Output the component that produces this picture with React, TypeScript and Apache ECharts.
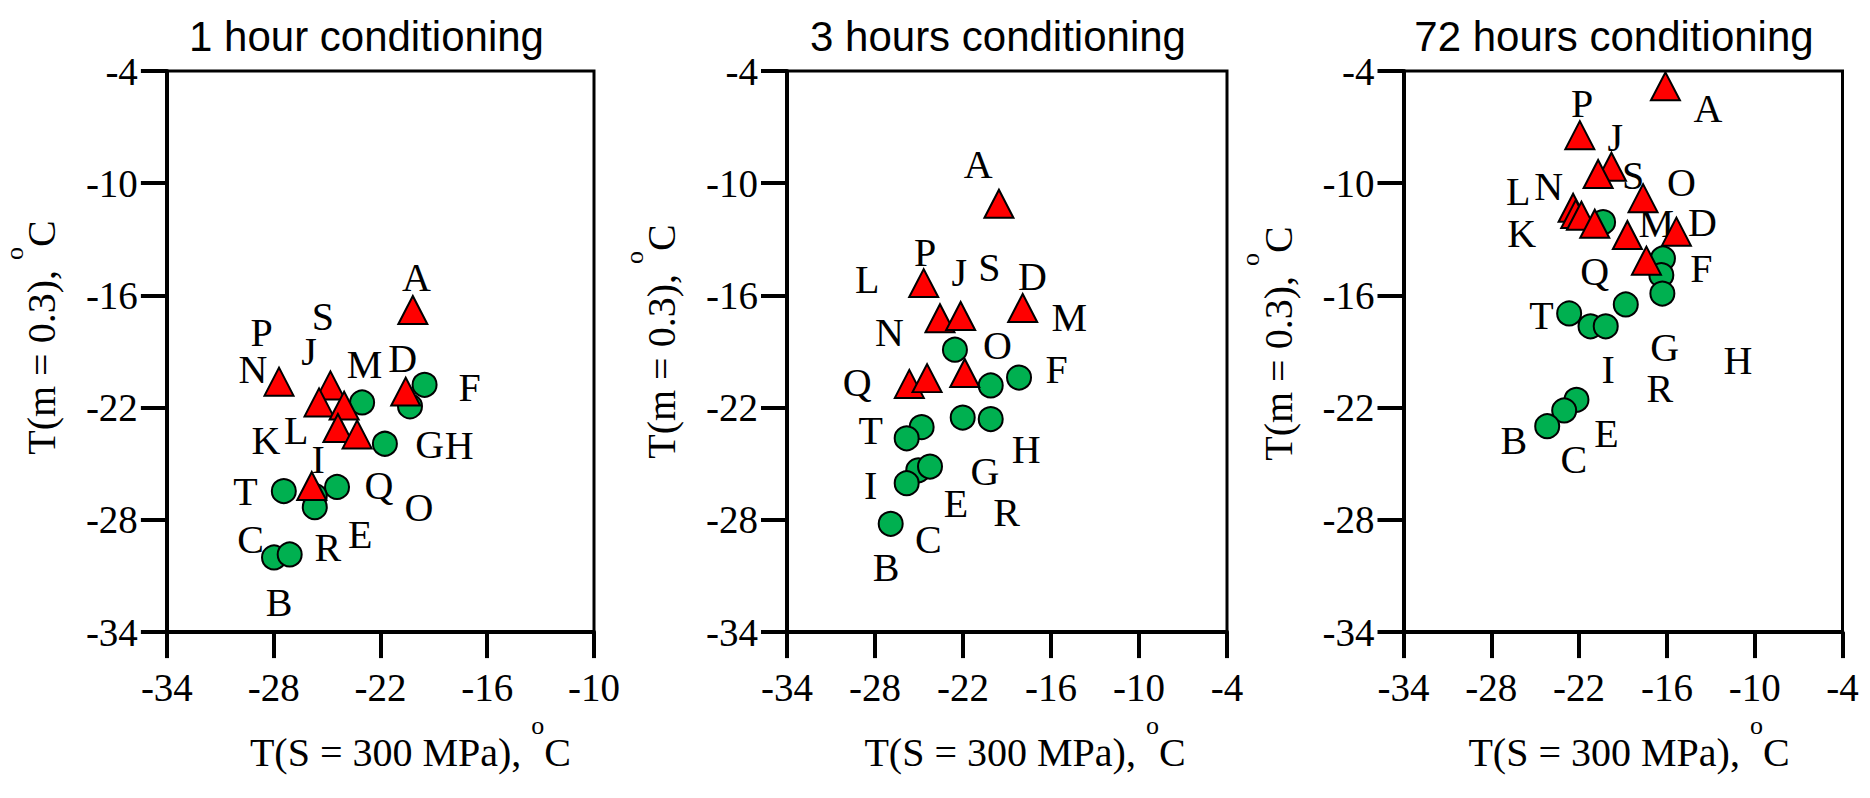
import { useEffect, useRef } from "react";
import * as echarts from "echarts";

// ---------- data ----------
const panelTitles = ["1 hour conditioning", "3 hours conditioning", "72 hours conditioning"];
const axisMin = -34;
const yAxisMax = -4;
const xAxisMax = [-10, -4, -4];
const tickStep = 6;

// Panel 1: 1 hour conditioning
const circles1: number[][] = [
  [-19.52, -20.78], [-20.34, -21.93], [-23.03, -21.72], [-21.75, -23.93], [-27.43, -26.46],
  [-24.44, -26.24], [-25.69, -26.72], [-25.69, -27.32], [-27.98, -30.01], [-27.1, -29.85],
];
const triangles1: number[][] = [
  [-24.81, -20.81], [-20.18, -16.78], [-27.7, -20.61], [-25.45, -21.72], [-24.04, -21.89],
  [-24.39, -23.09], [-23.31, -23.43], [-20.58, -21.14], [-25.86, -26.19],
];
const letters1 = ["A", "B", "C", "D", "E", "F", "G", "H", "I", "J", "K", "L", "M", "N", "O", "P", "Q", "R", "S", "T"];
const letterPos1: number[][] = [
  [-19.98, -15.04], [-27.7, -32.42], [-29.29, -29.03], [-20.75, -19.36], [-23.13, -28.78],
  [-16.99, -20.9], [-19.23, -23.98], [-17.58, -24.02], [-25.5, -24.75], [-26.01, -19.02],
  [-28.44, -23.73], [-26.73, -23.21], [-22.89, -19.67], [-29.17, -19.96], [-19.83, -27.32],
  [-28.67, -17.99], [-22.08, -26.18], [-24.95, -29.46], [-25.23, -17.1], [-29.59, -26.46],
];

// Panel 2: 3 hours conditioning
const circles2: number[][] = [
  [-22.55, -18.9], [-20.11, -20.81], [-18.18, -20.39], [-22.02, -22.53], [-20.11, -22.61],
  [-24.82, -23.04], [-25.84, -23.64], [-25.05, -25.35], [-24.25, -25.15], [-25.84, -26.04],
  [-26.93, -28.21],
];
const triangles2: number[][] = [
  [-19.55, -11.1], [-24.68, -15.34], [-17.93, -16.67], [-23.57, -17.22], [-22.16, -17.1],
  [-25.66, -20.73], [-24.45, -20.42], [-21.88, -20.15],
];
const letters2 = ["A", "B", "C", "D", "E", "F", "G", "H", "I", "J", "L", "M", "N", "O", "P", "Q", "R", "S", "T"];
const letterPos2: number[][] = [
  [-20.96, -9.0], [-27.25, -30.52], [-24.37, -29.03], [-17.27, -14.99], [-22.48, -27.12],
  [-15.61, -19.96], [-20.5, -25.41], [-17.7, -24.24], [-28.29, -26.18], [-22.25, -14.77],
  [-28.53, -15.16], [-14.75, -17.17], [-27.02, -17.99], [-19.66, -18.68], [-24.59, -13.71],
  [-29.21, -20.64], [-19.02, -27.58], [-20.21, -14.48], [-28.29, -23.21],
];

// Panel 3: 72 hours conditioning
const circles3: number[][] = [
  [-20.36, -12.08], [-16.27, -14.02], [-16.38, -14.91], [-16.31, -15.9], [-18.81, -16.48],
  [-22.68, -16.96], [-21.22, -17.65], [-20.18, -17.65], [-22.18, -21.58], [-23.02, -22.15],
  [-24.18, -22.99],
];
const triangles3: number[][] = [
  [-16.1, -4.82], [-21.95, -7.43], [-19.79, -9.12], [-20.7, -9.51], [-17.63, -10.8],
  [-22.41, -11.31], [-22.23, -11.65], [-21.84, -11.74], [-20.93, -12.17], [-18.7, -12.77],
  [-15.35, -12.59], [-17.4, -14.14],
];
const letters3 = ["A", "B", "C", "D", "E", "F", "G", "H", "I", "J", "K", "L", "M", "N", "O", "P", "Q", "R", "S", "T"];
const letterPos3: number[][] = [
  [-13.19, -6.0], [-26.46, -23.73], [-22.36, -24.75], [-13.58, -12.08], [-20.13, -23.38],
  [-13.65, -14.57], [-16.15, -18.81], [-11.15, -19.5], [-20.02, -19.96], [-19.52, -7.54],
  [-25.93, -12.68], [-26.16, -10.46], [-16.72, -12.17], [-24.07, -10.2], [-15.01, -9.94],
  [-21.8, -5.75], [-20.93, -14.74], [-16.49, -20.99], [-18.31, -9.6], [-24.57, -17.05],
];

const xName = "T(S = 300 MPa), {sup|o}C";
const yName = "T(m = 0.3), {sup|o}C";

// ---------- layout / style ----------
const SERIF = "'Liberation Serif', 'Times New Roman', serif";
const SANS = "'Liberation Sans', Arial, sans-serif";
const GREEN = "#00B050";
const RED = "#FF0000";

const grids = [
  { left: 157, top: 71, width: 437, height: 584 },
  { left: 787, top: 71, width: 440, height: 584 },
  { left: 1403.5, top: 71, width: 439, height: 584 },
];
const yNameGap = [80, 63, 65];
const yNameShift = [28, 20, 16];
const xNameShift = [60, 36, 12];

const panels = [
  { circles: circles1, triangles: triangles1, letters: letters1, pos: letterPos1 },
  { circles: circles2, triangles: triangles2, letters: letters2, pos: letterPos2 },
  { circles: circles3, triangles: triangles3, letters: letters3, pos: letterPos3 },
];

const nameRich = {
  sup: { fontFamily: SERIF, fontSize: 26, color: "#000", verticalAlign: "top" as const },
};

function buildOption() {
  const xAxis: any[] = [];
  const yAxis: any[] = [];
  const series: any[] = [];
  const graphic: any[] = [];
  panels.forEach((p, i) => {
    const g = grids[i];
    xAxis.push({
      gridIndex: i,
      type: "value",
      min: axisMin,
      max: xAxisMax[i],
      interval: tickStep,
      axisLine: { show: true, onZero: false, lineStyle: { color: "#000", width: 4 } },
      axisTick: { show: true, inside: false, length: 26, lineStyle: { color: "#000", width: 4 } },
      axisLabel: { fontFamily: SERIF, fontSize: 39, color: "#000", margin: 36 },
      splitLine: { show: false },
      name: xName,
      nameLocation: "middle",
      nameGap: 78,
      nameTextStyle: {
        fontFamily: SERIF,
        fontSize: 40,
        color: "#000",
        lineHeight: 81,
        padding: [0, 0, 0, xNameShift[i]],
        rich: nameRich,
      },
    });
    yAxis.push({
      gridIndex: i,
      type: "value",
      min: axisMin,
      max: yAxisMax,
      interval: tickStep,
      axisLine: { show: true, onZero: false, lineStyle: { color: "#000", width: 4 } },
      axisTick: { show: true, inside: false, length: 26, lineStyle: { color: "#000", width: 4 } },
      axisLabel: { fontFamily: SERIF, fontSize: 39, color: "#000", margin: 29 },
      splitLine: { show: false },
      name: yName,
      nameLocation: "middle",
      nameRotate: 90,
      nameGap: yNameGap[i],
      nameTextStyle: {
        fontFamily: SERIF,
        fontSize: 40,
        color: "#000",
        lineHeight: 81,
        padding: [0, 0, 0, yNameShift[i]],
        rich: nameRich,
      },
    });
    series.push({
      type: "scatter",
      xAxisIndex: i,
      yAxisIndex: i,
      z: 1,
      silent: true,
      symbol: "circle",
      symbolSize: 0.1,
      itemStyle: { color: "#000", opacity: 1 },
      data: p.letters.map((n, k) => ({ name: n, value: p.pos[k] })),
      label: {
        show: true,
        position: "inside",
        formatter: "{b}",
        fontFamily: SERIF,
        fontSize: 40,
        color: "#000",
        opacity: 1,
        textBorderWidth: 0,
        textBorderColor: "transparent",
      },
    });
    series.push({
      type: "scatter",
      xAxisIndex: i,
      yAxisIndex: i,
      z: 2,
      silent: true,
      symbol: "circle",
      symbolSize: 24,
      itemStyle: { color: GREEN, borderColor: "#000", borderWidth: 2, opacity: 1 },
      data: p.circles,
    });
    series.push({
      type: "scatter",
      xAxisIndex: i,
      yAxisIndex: i,
      z: 3,
      silent: true,
      symbol: "triangle",
      symbolSize: [29, 28],
      itemStyle: { color: RED, borderColor: "#000", borderWidth: 2, opacity: 1 },
      data: p.triangles,
    });
    graphic.push({
      type: "text",
      x: g.left + g.width / 2 - 9,
      y: 36.5,
      style: {
        text: panelTitles[i],
        font: `42px ${SANS}`,
        fill: "#000",
        textAlign: "center",
        textVerticalAlign: "middle",
        verticalAlign: "middle",
      },
    });
  });
  return {
    animation: false,
    backgroundColor: "#fff",
    grid: grids.map((g) => ({ ...g, show: true, borderColor: "#000", borderWidth: 3, backgroundColor: "transparent" })),
    xAxis,
    yAxis,
    series,
    graphic,
  };
}

export default function App() {
  const ref = useRef<HTMLDivElement>(null);
  useEffect(() => {
    if (!ref.current) return;
    const chart = echarts.init(ref.current, undefined, { renderer: "svg" });
    chart.setOption(buildOption() as any);
    return () => chart.dispose();
  }, []);
  return (
    <div
      ref={ref}
      style={{ position: "fixed", left: 0, top: 0, width: 1870, height: 798, background: "#fff" }}
    />
  );
}
